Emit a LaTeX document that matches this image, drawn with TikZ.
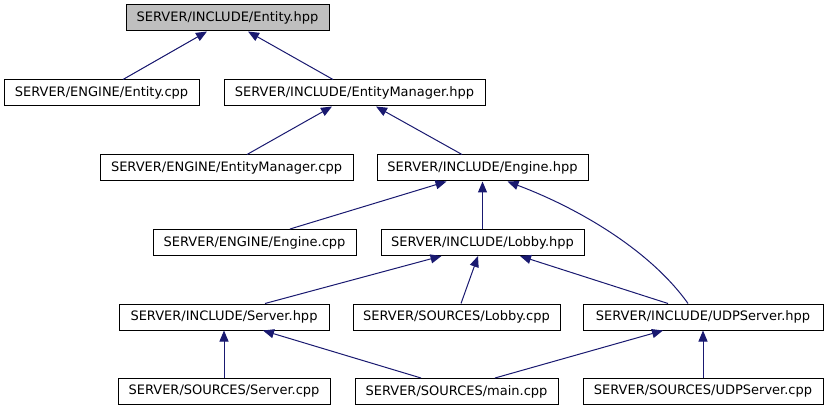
\documentclass[tikz,border=0pt]{standalone}
\usepackage{fontspec}
\setmainfont{DejaVu Sans}
\usetikzlibrary{arrows.meta}
\definecolor{edgeblue}{HTML}{191970}
\definecolor{focusgray}{HTML}{BFBFBF}
\begin{document}
\begin{tikzpicture}[x=1pt,y=-1pt,
  box/.style={draw=black, line width=1pt, minimum height=26pt, inner sep=0pt,
    font=\fontsize{13}{15}\selectfont, fill=white},
  edge/.style={draw=edgeblue, line width=1pt, -{Triangle[length=11pt,width=9pt]}}]
\useasboundingbox (0,0) rectangle (826,411);
\node[box, fill=focusgray, minimum width=203pt] (A) at (227.5,18) {SERVER/INCLUDE/Entity.hpp};
\node[box, minimum width=195pt] (B) at (101.5,93) {SERVER/ENGINE/Entity.cpp};
\node[box, minimum width=261pt] (C) at (354.5,93) {SERVER/INCLUDE/EntityManager.hpp};
\node[box, minimum width=253pt] (D) at (226.5,168) {SERVER/ENGINE/EntityManager.cpp};
\node[box, minimum width=211pt] (E) at (482.5,168) {SERVER/INCLUDE/Engine.hpp};
\node[box, minimum width=203pt] (F) at (254.5,242.5) {SERVER/ENGINE/Engine.cpp};
\node[box, minimum width=203pt] (G) at (482.5,242.5) {SERVER/INCLUDE/Lobby.hpp};
\node[box, minimum width=210pt] (H) at (224,317) {SERVER/INCLUDE/Server.hpp};
\node[box, minimum width=207pt] (I) at (456.5,317) {SERVER/SOURCES/Lobby.cpp};
\node[box, minimum width=240pt] (J) at (703,317) {SERVER/INCLUDE/UDPServer.hpp};
\node[box, minimum width=212pt] (K) at (224,391.5) {SERVER/SOURCES/Server.cpp};
\node[box, minimum width=203pt] (L) at (456.5,391.5) {SERVER/SOURCES/main.cpp};
\node[box, minimum width=240pt] (M) at (703,391.5) {SERVER/SOURCES/UDPServer.cpp};

\draw[edge] ([xshift=21.5pt]B.north) -- ([xshift=-20.5pt]A.south);
\draw[edge] ([xshift=-21.5pt]C.north) -- ([xshift=20.5pt]A.south);
\draw[edge] ([xshift=20.5pt]D.north) -- ([xshift=-22.5pt]C.south);
\draw[edge] ([xshift=-20.5pt]E.north) -- ([xshift=21.5pt]C.south);
\draw[edge] ([xshift=35.5pt]F.north) -- ([xshift=-36pt]E.south);
\draw[edge] (G.north) -- (E.south);
\draw[edge] ([xshift=-15pt]J.north) .. controls (650,250) and (578,208) .. ([xshift=25pt]E.south);
\draw[edge] ([xshift=41pt]H.north) -- ([xshift=-41pt]G.south);
\draw[edge] ([xshift=4.5pt]I.north) -- ([xshift=-4.5pt]G.south);
\draw[edge] ([xshift=-35pt]J.north) -- ([xshift=37.5pt]G.south);
\draw[edge] (K.north) -- (H.south);
\draw[edge] ([xshift=-35.5pt]L.north) -- ([xshift=39pt]H.south);
\draw[edge] ([xshift=38.5pt]L.north) -- ([xshift=-40pt]J.south);
\draw[edge] (M.north) -- (J.south);
\end{tikzpicture}
\end{document}
